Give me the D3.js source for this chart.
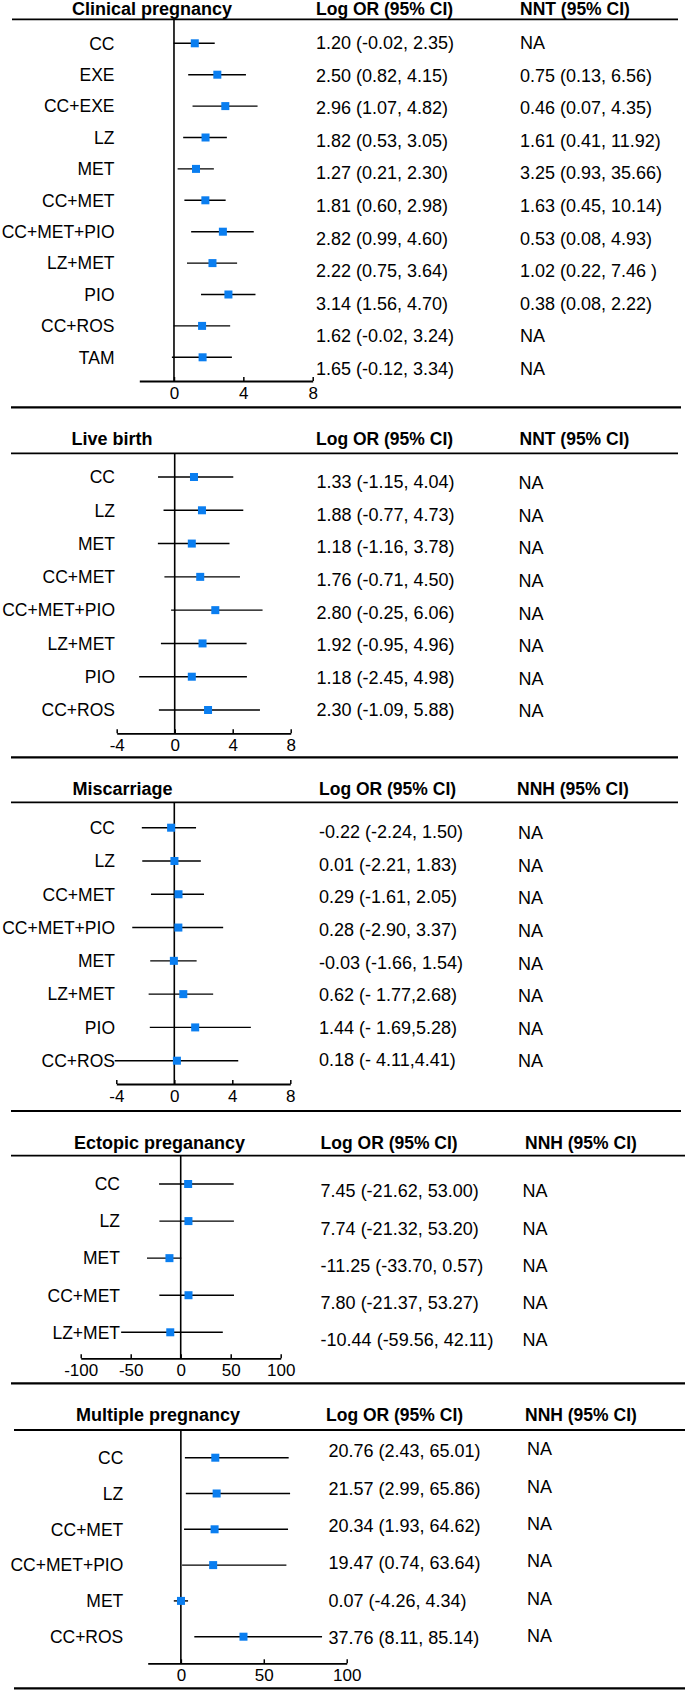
<!DOCTYPE html>
<html><head><meta charset="utf-8">
<script src="https://cdn.jsdelivr.net/npm/d3@7"></script>
<style>body{margin:0;background:#fff}svg{display:block}</style>
</head><body><svg id="c" width="685" height="1690"></svg>
<script>
// ---------- Clinical pregnancy ----------
const cpCats = ["CC","EXE","CC+EXE","LZ","MET","CC+MET","CC+MET+PIO","LZ+MET","PIO","CC+ROS","TAM"];
const cpEst  = [1.20, 2.50, 2.96, 1.82, 1.27, 1.81, 2.82, 2.22, 3.14, 1.62, 1.65];
const cpLo   = [-0.02, 0.82, 1.07, 0.53, 0.21, 0.60, 0.99, 0.75, 1.56, -0.02, -0.12];
const cpHi   = [2.35, 4.15, 4.82, 3.05, 2.30, 2.98, 4.60, 3.64, 4.70, 3.24, 3.34];
const cpOR   = ["1.20 (-0.02, 2.35)","2.50 (0.82, 4.15)","2.96 (1.07, 4.82)","1.82 (0.53, 3.05)","1.27 (0.21, 2.30)","1.81 (0.60, 2.98)","2.82 (0.99, 4.60)","2.22 (0.75, 3.64)","3.14 (1.56, 4.70)","1.62 (-0.02, 3.24)","1.65 (-0.12, 3.34)"];
const cpNN   = ["NA","0.75 (0.13, 6.56)","0.46 (0.07, 4.35)","1.61 (0.41, 11.92)","3.25 (0.93, 35.66)","1.63 (0.45, 10.14)","0.53 (0.08, 4.93)","1.02 (0.22, 7.46 )","0.38 (0.08, 2.22)","NA","NA"];
const cpTicks = [0, 4, 8];

// ---------- Live birth ----------
const lbCats = ["CC","LZ","MET","CC+MET","CC+MET+PIO","LZ+MET","PIO","CC+ROS"];
const lbEst  = [1.33, 1.88, 1.18, 1.76, 2.80, 1.92, 1.18, 2.30];
const lbLo   = [-1.15, -0.77, -1.16, -0.71, -0.25, -0.95, -2.45, -1.09];
const lbHi   = [4.04, 4.73, 3.78, 4.50, 6.06, 4.96, 4.98, 5.88];
const lbOR   = ["1.33 (-1.15, 4.04)","1.88 (-0.77, 4.73)","1.18 (-1.16, 3.78)","1.76 (-0.71, 4.50)","2.80 (-0.25, 6.06)","1.92 (-0.95, 4.96)","1.18 (-2.45, 4.98)","2.30 (-1.09, 5.88)"];
const lbNN   = ["NA","NA","NA","NA","NA","NA","NA","NA"];
const lbTicks = [-4, 0, 4, 8];

// ---------- Miscarriage ----------
const miCats = ["CC","LZ","CC+MET","CC+MET+PIO","MET","LZ+MET","PIO","CC+ROS"];
const miEst  = [-0.22, 0.01, 0.29, 0.28, -0.03, 0.62, 1.44, 0.18];
const miLo   = [-2.24, -2.21, -1.61, -2.90, -1.66, -1.77, -1.69, -4.11];
const miHi   = [1.50, 1.83, 2.05, 3.37, 1.54, 2.68, 5.28, 4.41];
const miOR   = ["-0.22 (-2.24, 1.50)","0.01 (-2.21, 1.83)","0.29 (-1.61, 2.05)","0.28 (-2.90, 3.37)","-0.03 (-1.66, 1.54)","0.62 (- 1.77,2.68)","1.44 (- 1.69,5.28)","0.18 (- 4.11,4.41)"];
const miNN   = ["NA","NA","NA","NA","NA","NA","NA","NA"];
const miTicks = [-4, 0, 4, 8];

// ---------- Ectopic pregnancy ----------
const ecCats = ["CC","LZ","MET","CC+MET","LZ+MET"];
const ecEst  = [7.45, 7.74, -11.25, 7.80, -10.44];
const ecLo   = [-21.62, -21.32, -33.70, -21.37, -59.56];
const ecHi   = [53.00, 53.20, 0.57, 53.27, 42.11];
const ecOR   = ["7.45 (-21.62, 53.00)","7.74 (-21.32, 53.20)","-11.25 (-33.70, 0.57)","7.80 (-21.37, 53.27)","-10.44 (-59.56, 42.11)"];
const ecNN   = ["NA","NA","NA","NA","NA"];
const ecTicks = [-100, -50, 0, 50, 100];

// ---------- Multiple pregnancy ----------
const mpCats = ["CC","LZ","CC+MET","CC+MET+PIO","MET","CC+ROS"];
const mpEst  = [20.76, 21.57, 20.34, 19.47, 0.07, 37.76];
const mpLo   = [2.43, 2.99, 1.93, 0.74, -4.26, 8.11];
const mpHi   = [65.01, 65.86, 64.62, 63.64, 4.34, 85.14];
const mpOR   = ["20.76 (2.43, 65.01)","21.57 (2.99, 65.86)","20.34 (1.93, 64.62)","19.47 (0.74, 63.64)","0.07 (-4.26, 4.34)","37.76 (8.11, 85.14)"];
const mpNN   = ["NA","NA","NA","NA","NA","NA"];
const mpTicks = [0, 50, 100];

const FONT = '"Liberation Sans", Arial, Helvetica, sans-serif';
const BLUE = "#0a7ef0";
const svg = d3.select("#c");

function panel(o) {
  const g = svg.append("g").attr("font-family", FONT);
  const x = d3.scaleLinear().domain(o.domain).range(o.range);
  const y = d3.scalePoint().domain(o.cats).range(o.rowY);
  const yt = d3.scalePoint().domain(o.cats).range(o.valY);

  // headers
  g.append("text").attr("x", o.titleX).attr("y", o.headY).attr("dy", "0.36em")
    .attr("font-weight", "bold").attr("font-size", 18).text(o.title);
  g.append("text").attr("x", o.orHX).attr("y", o.headY).attr("dy", "0.36em")
    .attr("font-weight", "bold").attr("font-size", 17.5).text("Log OR (95% CI)");
  g.append("text").attr("x", o.nnHX).attr("y", o.headY).attr("dy", "0.36em")
    .attr("font-weight", "bold").attr("font-size", 17.5).text(o.nnHead);

  // header rule and separator rule
  g.append("line").attr("x1", o.lineX[0]).attr("x2", o.lineX[1])
    .attr("y1", o.lineY).attr("y2", o.lineY).attr("stroke", "#000").attr("stroke-width", 1.8);
  g.append("line").attr("x1", o.sepX[0]).attr("x2", o.sepX[1])
    .attr("y1", o.sepY).attr("y2", o.sepY).attr("stroke", "#000").attr("stroke-width", 2.2);

  // zero line
  g.append("line").attr("x1", x(0)).attr("x2", x(0))
    .attr("y1", o.lineY).attr("y2", o.axisY).attr("stroke", "#000").attr("stroke-width", 1.6);

  // axis
  const ax = d3.axisBottom(x).tickValues(o.ticks).tickFormat(d => String(d))
    .tickSizeInner(-4).tickSizeOuter(0).tickPadding(5.5);
  const axg = g.append("g").attr("transform", `translate(0,${o.axisY})`).call(ax)
    .attr("font-family", FONT).attr("font-size", 17);
  axg.select(".domain").attr("stroke-width", 1.8);
  axg.selectAll(".tick line").attr("stroke-width", 1.5);
  axg.selectAll(".tick text").attr("fill", "#000");

  const rows = o.cats.map((c, i) => ({c, est: o.est[i], lo: o.lo[i], hi: o.hi[i], or: o.or[i], nn: o.nn[i]}));

  // labels
  g.selectAll("text.lab").data(rows).join("text").attr("class", "lab")
    .attr("x", o.labelX).attr("y", d => y(d.c)).attr("dy", "0.36em")
    .attr("text-anchor", "end").attr("font-size", 17.5).text(d => d.c);

  // CI lines
  g.selectAll("line.ci").data(rows).join("line").attr("class", "ci")
    .attr("x1", d => x(d.lo)).attr("x2", d => x(d.hi))
    .attr("y1", d => y(d.c)).attr("y2", d => y(d.c))
    .attr("stroke", "#000").attr("stroke-width", 1.4);

  // markers
  g.selectAll("rect.pt").data(rows).join("rect").attr("class", "pt")
    .attr("x", d => x(d.est) - 4).attr("y", d => y(d.c) - 4)
    .attr("width", 8).attr("height", 8).attr("fill", BLUE);

  // value text
  g.selectAll("text.or").data(rows).join("text").attr("class", "or")
    .attr("x", o.valX).attr("y", d => yt(d.c)).attr("dy", "0.36em")
    .attr("font-size", 18).text(d => d.or);
  g.selectAll("text.nn").data(rows).join("text").attr("class", "nn")
    .attr("x", o.nnX).attr("y", d => yt(d.c) + o.nnDy).attr("dy", "0.36em")
    .attr("font-size", 18).text(d => d.nn);
}

panel({cats: cpCats, est: cpEst, lo: cpLo, hi: cpHi, or: cpOR, nn: cpNN, ticks: cpTicks,
  title: "Clinical pregnancy", nnHead: "NNT (95% CI)", titleX: 72, headY: 8.2, orHX: 316, nnHX: 520,
  lineY: 19.3, lineX: [12, 678], sepY: 407.3, sepX: [11, 681], axisY: 381,
  domain: [-2, 8], range: [139.3, 312.7], rowY: [43.3, 357.3], valY: [42.7, 368.3],
  labelX: 114.5, valX: 316, nnX: 520, nnDy: 0});

panel({cats: lbCats, est: lbEst, lo: lbLo, hi: lbHi, or: lbOR, nn: lbNN, ticks: lbTicks,
  title: "Live birth", nnHead: "NNT (95% CI)", titleX: 71.6, headY: 438.3, orHX: 316, nnHX: 519.5,
  lineY: 453.3, lineX: [11, 678], sepY: 757.3, sepX: [11, 678], axisY: 733.3,
  domain: [-4, 8], range: [116.7, 290.7], rowY: [477, 710], valY: [481.7, 710],
  labelX: 115, valX: 316.5, nnX: 518.5, nnDy: 1});

panel({cats: miCats, est: miEst, lo: miLo, hi: miHi, or: miOR, nn: miNN, ticks: miTicks,
  title: "Miscarriage", nnHead: "NNH (95% CI)", titleX: 72.5, headY: 788.3, orHX: 319, nnHX: 517,
  lineY: 802.3, lineX: [11, 678], sepY: 1111, sepX: [11, 681], axisY: 1084,
  domain: [-4, 8], range: [116.3, 290.3], rowY: [827.7, 1060.7], valY: [831.7, 1060],
  labelX: 115, valX: 319, nnX: 518, nnDy: 1});

panel({cats: ecCats, est: ecEst, lo: ecLo, hi: ecHi, or: ecOR, nn: ecNN, ticks: ecTicks,
  title: "Ectopic preganancy", nnHead: "NNH (95% CI)", titleX: 74, headY: 1142.7, orHX: 320.6, nnHX: 525,
  lineY: 1155.7, lineX: [11, 685], sepY: 1383.3, sepX: [11, 685], axisY: 1358.3,
  domain: [-100, 100], range: [80.7, 280.7], rowY: [1184, 1332.3], valY: [1190.7, 1340],
  labelX: 120, valX: 320.6, nnX: 522.6, nnDy: 0});

panel({cats: mpCats, est: mpEst, lo: mpLo, hi: mpHi, or: mpOR, nn: mpNN, ticks: mpTicks,
  title: "Multiple pregnancy", nnHead: "NNH (95% CI)", titleX: 76, headY: 1415, orHX: 326, nnHX: 525,
  lineY: 1430, lineX: [14, 685], sepY: 1688.3, sepX: [14, 685], axisY: 1663.3,
  domain: [-20, 100], range: [147.7, 346.7], rowY: [1457.7, 1636.7], valY: [1451, 1637.3],
  labelX: 123.3, valX: 328.5, nnX: 527, nnDy: -2});
</script>
</body></html>
